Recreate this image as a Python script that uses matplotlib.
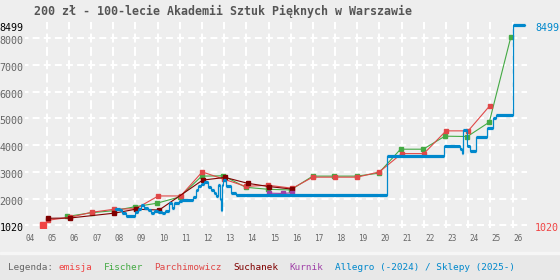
import matplotlib
matplotlib.use("Agg")
import matplotlib.pyplot as plt
from matplotlib.patches import Rectangle
from matplotlib.transforms import offset_copy

plt.rcParams['lines.scale_dashes'] = False
MONO = 'DejaVu Sans Mono'

title = "200 zł - 100-lecie Akademii Sztuk Pięknych w Warszawie"

# emisja
emisja_x = [2004.85]
emisja_y = [1020]

fischer_x = [2005.93, 2007.03, 2008.03, 2009.0, 2009.96, 2011.0, 2011.99, 2012.96,
             2013.97, 2014.96, 2016.0, 2016.99, 2017.97, 2018.97, 2019.96,
             2020.95, 2021.97, 2022.95, 2023.96, 2024.95, 2025.92]
fischer_y = [1330, 1470, 1545, 1695, 1822, 2060, 2839, 2850,
             2422, 2347, 2320, 2839, 2839, 2839, 2947,
             3847, 3847, 4335, 4322, 4860, 8046]

parch_x = [2005.04, 2006.05, 2007.03, 2008.03, 2009.02, 2010.03, 2011.04, 2012.01,
           2013.0, 2013.97, 2014.99, 2016.08, 2016.99, 2018.0, 2019.0, 2019.99,
           2021.0, 2022.0, 2023.0, 2024.0, 2024.98]
parch_y = [1185, 1297, 1485, 1597, 1620, 2096, 2096, 2996,
           2720, 2456, 2497, 2385, 2800, 2800, 2800, 2996,
           3682, 3682, 4534, 4534, 5482]

suchanek_x = [2005.07, 2006.05, 2008.03, 2009.02, 2010.07, 2012.03, 2013.04,
              2014.06, 2015.0, 2016.08]
suchanek_y = [1260, 1270, 1450, 1600, 1570, 2690, 2790, 2570, 2450, 2350]

kurnik_x = [2015.03, 2015.65, 2016.05]
kurnik_y = [2200, 2190, 2215]

# Allegro (-2024) / Sklepy (2025-), step values
allegro_x = [2008.08, 2008.3, 2008.4, 2008.57, 2009.0, 2009.1, 2009.25, 2009.4, 2009.55,
             2009.7, 2009.85, 2010.0, 2010.2, 2010.35, 2010.5, 2010.65, 2010.75,
             2010.95, 2011.1, 2011.6, 2011.72, 2011.82, 2011.95, 2012.1, 2012.25,
             2012.4, 2012.55, 2012.65, 2012.72, 2012.8, 2012.84, 2012.88, 2012.96,
             2013.08, 2013.3, 2013.55, 2020.35, 2022.9, 2023.62, 2023.7, 2023.75,
             2023.95, 2024.1, 2024.35, 2024.85, 2025.1, 2025.25, 2026.03]
allegro_y = [1600, 1560, 1450, 1340, 1500, 1620, 1760, 1630, 1560,
             1450, 1530, 1500, 1460, 1530, 1820, 1640, 1830,
             1900, 1940, 2070, 2320, 2480, 2560, 2630, 2420,
             2330, 2200, 2100, 2500, 1970, 1570, 2500, 2680,
             2470, 2200, 2130, 3600, 3970, 3850, 3700, 4570,
             3950, 3770, 4300, 4630, 5010, 5110, 8499]
allegro_end = 2026.55

years = list(range(2004, 2027))
grid_vals = [1020, 2000, 3000, 4000, 5000, 6000, 7000, 8000]
left_labels = ["1020", "2000", "3000", "4000", "5000", "6000", "7000", "8000", "8499"]
left_vals = [1020, 2000, 3000, 4000, 5000, 6000, 7000, 8000, 8499]

legend_items = [("Legenda:", "#666666"), ("emisja", "#f04444"), ("Fischer", "#44aa44"),
                ("Parchimowicz", "#e04848"), ("Suchanek", "#800000"),
                ("Kurnik", "#a040a8"), ("Allegro (-2024) / Sklepy (2025-)", "#0088cc")]

BG = "#eeeeee"
fig = plt.figure(figsize=(5.6, 2.8), dpi=100, facecolor=BG)
fig.patches.append(Rectangle((0, 0), 1, 26 / 280, transform=fig.transFigure,
                             color="#e8e8e8", zorder=0))
fig.patches.append(Rectangle((0, 26 / 280), 1, 2 / 280, transform=fig.transFigure,
                             color="#f6f6f6", zorder=0))

ax = fig.add_axes([24.5 / 560, 52 / 280, 502.5 / 560, 206 / 280])
ax.set_facecolor(BG)
ax.set_xlim(2004, 2026.65)
ax.set_ylim(896, 8611)
for s in ax.spines.values():
    s.set_visible(False)
ax.set_xticks([])
ax.set_yticks([])

for v in grid_vals:
    ax.axhline(v, color="white", lw=1.5, ls=(2.5, (5, 3)), zorder=1)
for yr in years:
    ax.axvline(yr, color="white", lw=1.5, ls=(0.9, (6.5, 3.1)), zorder=1)

ax.plot(fischer_x, fischer_y, color="#44aa44", lw=0.8, marker="s", ms=2.2, zorder=3)
ax.plot(parch_x, parch_y, color="#e04848", lw=0.8, marker="s", ms=2.2, zorder=3)
ax.plot(suchanek_x, suchanek_y, color="#800000", lw=0.8, marker="s", ms=2.2, zorder=3)
ax.plot(kurnik_x, kurnik_y, color="#a040a8", lw=0.8, marker="s", ms=2.2, zorder=3)

bx = allegro_x + [allegro_end]
by = allegro_y + [allegro_y[-1]]
ax.step(bx, by, where="post", color="#0088cc", lw=0.9, zorder=4)
ax.hlines(allegro_y, allegro_x, bx[1:], color="#0088cc", lw=2.3, zorder=4)

ax.plot(emisja_x, emisja_y, ls="none", marker="s", ms=3.8, color="#f04444", zorder=5)

# axis labels
ytr = offset_copy(ax.get_yaxis_transform(), fig=fig, x=0, y=-3, units="dots")
for lab, v in zip(left_labels, left_vals):
    col = "black" if lab in ("1020", "8499") else "#666666"
    ax.text(-0.002, v, lab, transform=ytr, ha="right", va="center",
            fontsize=7.2, family=MONO, color=col)
ax.text(1.016, 8499, "8499", transform=ytr, ha="left", va="center",
        fontsize=7.2, family=MONO, color="#0088cc")
ax.text(1.016, 1020, "1020", transform=ytr, ha="left", va="center",
        fontsize=7.2, family=MONO, color="#f04444")

for yr in years:
    ax.text(yr + 0.05, -0.053, "%02d" % (yr % 100), transform=ax.get_xaxis_transform(),
            ha="left", va="center", fontsize=5.6, family=MONO, color="#666666")

fig.text(34 / 560, 1 - 11 / 280, title, ha="left", va="center", fontsize=8.4,
         family=MONO, weight="bold", color="#555555")

pos = 0
for i, (lab, col) in enumerate(legend_items):
    fig.text((8 + pos * 5.63) / 560, 1 - 267 / 280, lab, ha="left", va="center",
             fontsize=6.75, family=MONO, color=col)
    pos += len(lab) + (1 if i == 0 else 2)

fig.savefig("out.png", dpi=100, facecolor=BG)
